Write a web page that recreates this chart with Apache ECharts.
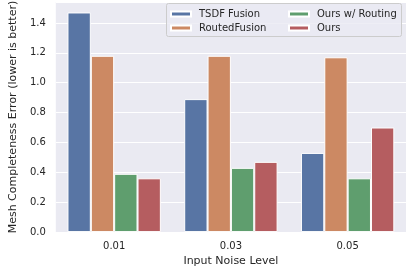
<!DOCTYPE html>
<html>
<head>
<meta charset="utf-8">
<script src="https://cdn.jsdelivr.net/npm/echarts@6/dist/echarts.min.js"></script>
<style>html,body{margin:0;padding:0;background:#fff}#c{width:407px;height:272px}</style>
</head>
<body>
<div id="c"></div>
<script>
var categories = ['0.01', '0.03', '0.05'];
var tsdfFusion = [1.47, 0.89, 0.53];
var routedFusion = [1.18, 1.18, 1.17];
var oursWithRouting = [0.39, 0.43, 0.36];
var ours = [0.36, 0.47, 0.70];
var seriesNames = ['TSDF Fusion', 'RoutedFusion', 'Ours w/ Routing', 'Ours'];
var seriesColors = ['#5875a4', '#cc8963', '#5f9e6e', '#b55d60'];
var seriesValues = [tsdfFusion, routedFusion, oursWithRouting, ours];

var font = 'DejaVu Sans';
var textColor = '#262626';
var chart = echarts.init(document.getElementById('c'), null, {renderer: 'canvas'});
var legendCommon = {
  orient: 'vertical',
  top: 8,
  itemWidth: 20,
  itemHeight: 5,
  itemGap: 2,
  icon: 'rect',
  padding: 0,
  textStyle: {fontFamily: font, fontSize: 10, color: textColor, lineHeight: 12, padding: [0, 0, 0, 3]}
};
chart.setOption({
  animation: false,
  backgroundColor: '#ffffff',
  grid: {left: 43, right: 1, top: 2, bottom: 35, containLabel: false, show: true, backgroundColor: '#eaeaf2', borderWidth: 0},
  graphic: [{
    type: 'rect', shape: {x: 166.5, y: 3.5, width: 235, height: 33, r: 2},
    style: {fill: 'rgba(234,234,242,0.8)', stroke: '#cccccc', lineWidth: 1}, z: 90
  }],
  legend: [
    Object.assign({}, legendCommon, {left: 170, data: seriesNames.slice(0, 2), z: 100}),
    Object.assign({}, legendCommon, {left: 288, data: seriesNames.slice(2, 4), z: 100})
  ],
  xAxis: {
    type: 'category', data: categories,
    name: 'Input Noise Level', nameLocation: 'middle', nameGap: 22,
    nameTextStyle: {fontFamily: font, fontSize: 11, color: textColor},
    axisLine: {show: false}, axisTick: {show: false},
    axisLabel: {fontFamily: font, fontSize: 10, color: textColor, margin: 9},
    splitLine: {show: false}
  },
  yAxis: {
    type: 'value', min: 0, max: 1.54, interval: 0.2,
    name: 'Mesh Completeness Error (lower is better)', nameLocation: 'middle', nameGap: 32,
    nameTextStyle: {fontFamily: font, fontSize: 11, color: textColor},
    axisLine: {show: false}, axisTick: {show: false},
    axisLabel: {fontFamily: font, fontSize: 10, color: textColor, margin: 10,
      formatter: function (v) { var k = Math.round(v / 0.2); return Math.abs(v - k * 0.2) < 1e-6 ? v.toFixed(1) : ''; }},
    splitLine: {show: true, lineStyle: {color: '#ffffff', width: 1}}
  },
  series: seriesNames.map(function (n, i) {
    return {
      name: n, type: 'bar', data: seriesValues[i],
      barGap: '0%', barCategoryGap: '20%',
      itemStyle: {color: seriesColors[i], borderColor: '#ffffff', borderWidth: 1}
    };
  })
});
</script>
</body>
</html>
